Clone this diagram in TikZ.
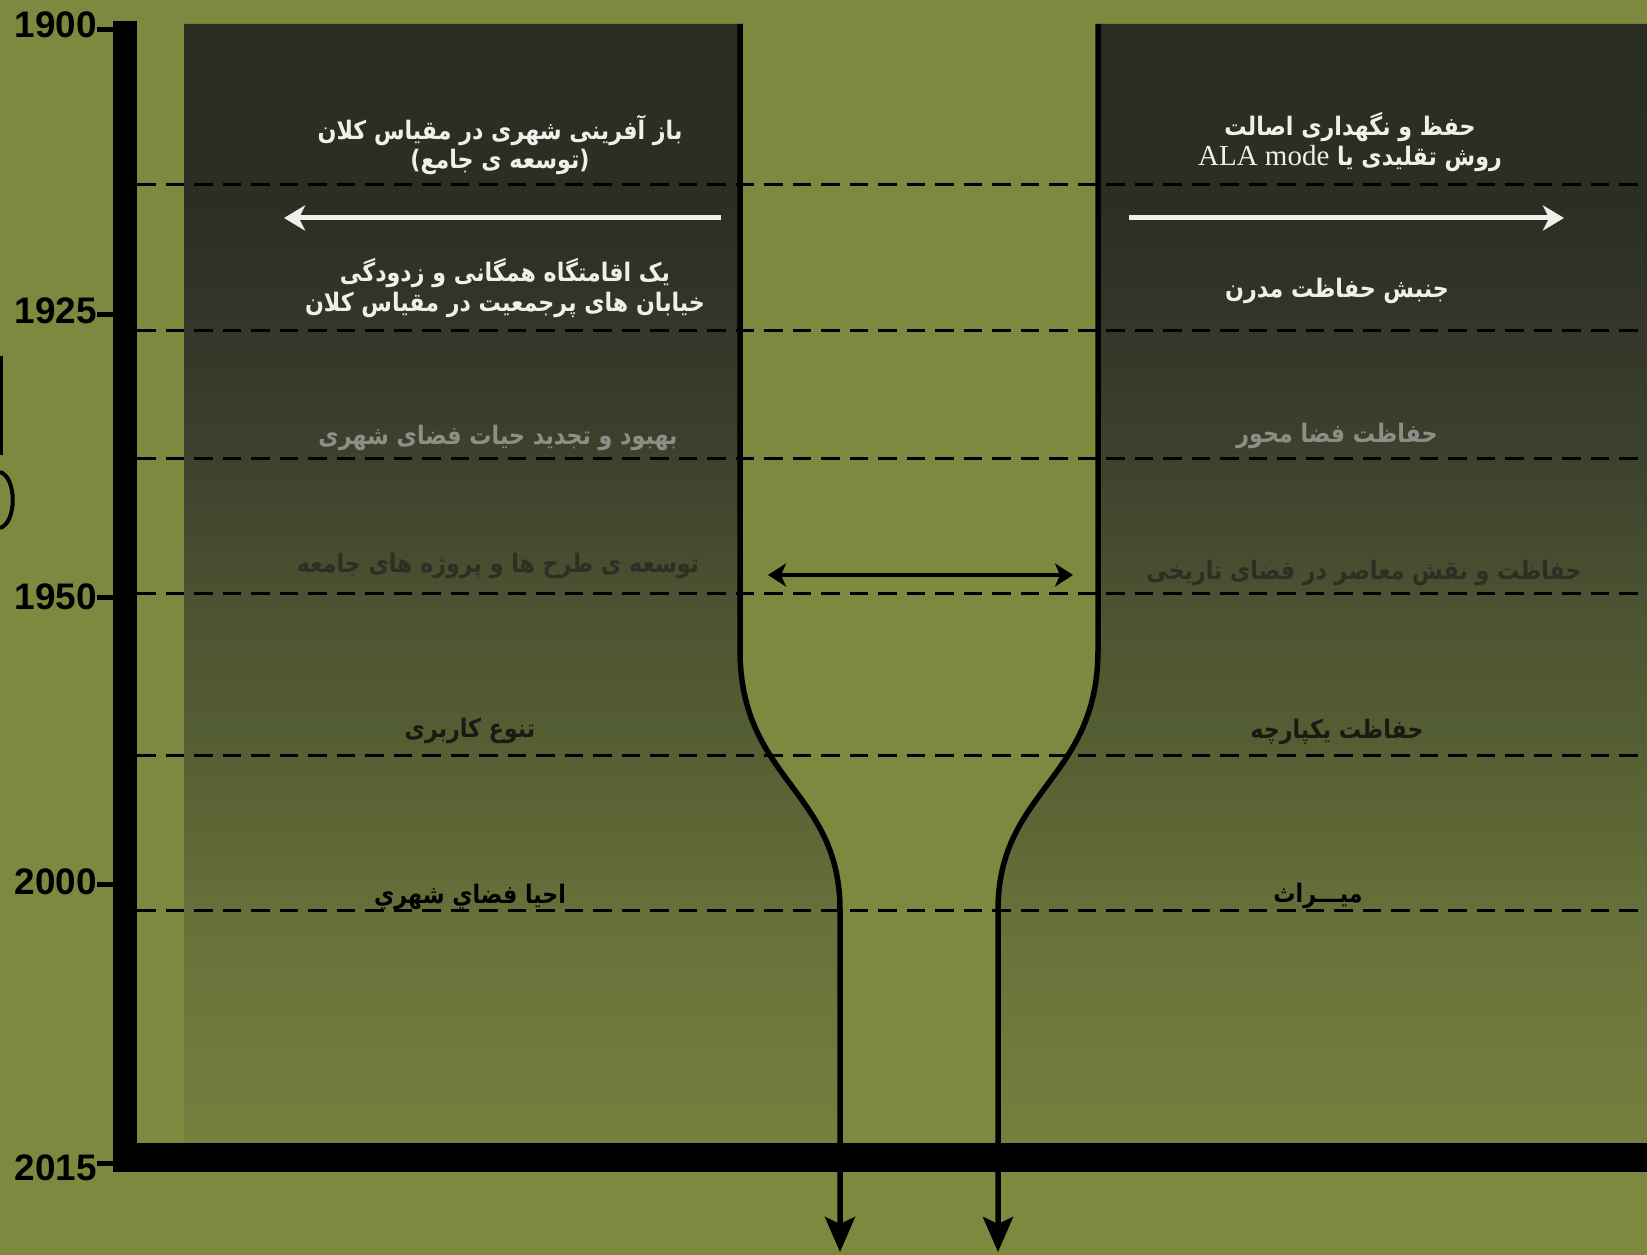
\documentclass[tikz,border=0pt]{standalone}
\usepackage{fontspec}
\usepackage{tikz}
\usetikzlibrary{arrows.meta}
\setmainfont{Liberation Serif}
\newfontfamily\yearfont{Liberation Sans}
\newfontfamily\persianfont[Script=Arabic, FakeStretch=0.87]{DejaVu Sans}
\TeXXeTstate=1

\definecolor{oliveBg}{RGB}{125,137,63}
\definecolor{fadeA}{RGB}{117,128,62}
\definecolor{fadeB}{RGB}{102,112,58}
\definecolor{fadeC}{RGB}{86,96,51}
\definecolor{fadeD}{RGB}{75,82,49}
\definecolor{fadeE}{RGB}{61,66,45}
\definecolor{fadeF}{RGB}{51,54,41}
\definecolor{fadeG}{RGB}{43,46,35}
\definecolor{fadeH}{RGB}{42,45,34}
\definecolor{lightText}{RGB}{240,240,234}
\definecolor{greyText}{RGB}{142,142,136}
\definecolor{dimText}{RGB}{44,47,35}
\definecolor{darkText}{RGB}{24,26,19}

\pgfdeclareverticalshading{panelfade}{100bp}{
  color(0bp)=(fadeA); color(25bp)=(fadeA); color(35.4bp)=(fadeB);
  color(42.1bp)=(fadeC); color(49.3bp)=(fadeD); color(55.5bp)=(fadeE);
  color(61.4bp)=(fadeF); color(67bp)=(fadeG); color(75bp)=(fadeH);
  color(100bp)=(fadeH)}

\begin{document}
\begin{tikzpicture}[x=0.2mm, y=-0.2mm]
    \tikzstyle{year} = [
      anchor=east,
      inner sep=0pt,
      font=\yearfont\bfseries\fontsize{21}{21}\selectfont,
    ]
    \tikzstyle{yeartick} = [
      line width=1mm,
      draw=black,
    ]
    \tikzstyle{period} = [
      draw=black,
      line width=0.6mm,
      dash pattern=on 3.7mm off 2mm,
    ]
    \tikzstyle{neck} = [
      draw=black,
      line width=1.1mm,
      -{Stealth[length=7mm, width=6mm, inset=1.4mm]},
    ]
    \tikzstyle{phrase} = [
      anchor=center,
      align=center,
      inner sep=0pt,
      font=\persianfont\bfseries\fontsize{14.5}{17}\selectfont,
    ]
    \tikzstyle{trend} = [
      draw=lightText,
      line width=1mm,
      -{Stealth[length=4.2mm, width=5mm, inset=1.2mm]},
    ]
    \tikzstyle{span} = [
      draw=black,
      line width=0.8mm,
      {Stealth[length=3.6mm, width=4.6mm, inset=1mm]}-{Stealth[length=3.6mm, width=4.6mm, inset=1mm]},
    ]

    \newcommand{\figwidth}[0]{1647}
    \newcommand{\panelbottom}[0]{1143}
    \newcommand{\lineleft}[0]{137}

    \useasboundingbox (0,0) rectangle (\figwidth,1255);
    \fill[oliveBg] (0,0) rectangle (\figwidth,1255);

    \coordinate (leftNeckTop)   at (740,24);
    \coordinate (leftNeckBend)  at (740,650);
    \coordinate (leftNeckFoot)  at (840,910);
    \coordinate (leftNeckEnd)   at (840,1252);
    \coordinate (rightNeckTop)  at (1098,24);
    \coordinate (rightNeckBend) at (1098,650);
    \coordinate (rightNeckFoot) at (998,910);
    \coordinate (rightNeckEnd)  at (998,1252);

    % panels
    {
      \shade[shading=panelfade] (184,24) -- (leftNeckTop) -- (leftNeckBend)
        .. controls +(0,130) and +(0,-120) .. (leftNeckFoot)
        -- (840,\panelbottom) -- (184,\panelbottom) -- cycle;
      \shade[shading=panelfade] (rightNeckTop) -- (\figwidth,24) -- (\figwidth,\panelbottom)
        -- (998,\panelbottom) -- (rightNeckFoot)
        .. controls +(0,-120) and +(0,130) .. (rightNeckBend) -- cycle;
    }

    % period lines
    {
      \draw[period] (\lineleft,185) -- (\figwidth,185);
      \draw[period] (\lineleft,331) -- (\figwidth,331);
      \draw[period] (\lineleft,459) -- (\figwidth,459);
      \draw[period] (\lineleft,594) -- (\figwidth,594);
      \draw[period] (\lineleft,756) -- (\figwidth,756);
      \draw[period] (\lineleft,910) -- (\figwidth,910);
    }

    % necks
    {
      \draw[neck] (leftNeckTop) -- (leftNeckBend)
        .. controls +(0,130) and +(0,-120) .. (leftNeckFoot) -- (leftNeckEnd);
      \draw[neck] (rightNeckTop) -- (rightNeckBend)
        .. controls +(0,130) and +(0,-120) .. (rightNeckFoot) -- (rightNeckEnd);
    }

    % time axis
    {
      \fill[black] (113,21) rectangle (137,1172);
      \fill[black] (113,\panelbottom) rectangle (\figwidth,1172);
      \node[year] (yearI)   at (97,25)   {1900};
      \node[year] (yearII)  at (97,311)  {1925};
      \node[year] (yearIII) at (97,597)  {1950};
      \node[year] (yearIV)  at (97,882)  {2000};
      \node[year] (yearV)   at (97,1168) {2015};
      \draw[yeartick] (yearI.east)   ++(0,5) -- ++(16,0);
      \draw[yeartick] (yearII.east)  ++(0,4) -- ++(16,0);
      \draw[yeartick] (yearIII.east) ++(0,1) -- ++(16,0);
      \draw[yeartick] (yearIV.east)  ++(0,2) -- ++(16,0);
      \draw[yeartick] (yearV.east)   ++(0,-5) -- ++(16,0);
    }

    % cut edge
    {
      \draw[line width=0.7mm] (1,356) -- (1,455);
      \draw[line width=0.8mm] (0,472) .. controls (17,477) and (17,523) .. (0,528);
    }

    % left column
    {
      \node[phrase, text=lightText] (leftTitle) at (500,145)
        {\beginR باز آفرینی شهری در مقیاس کلان\endR\\\beginR (توسعه ی جامع)\endR};
      \coordinate (leftTrendTail) at (721,218);
      \coordinate (leftTrendTip)  at (284,218);
      \draw[trend] (leftTrendTail) -- (leftTrendTip);
      \node[phrase, text=lightText] (leftItemI) at (505,288)
        {\beginR یک اقامتگاه همگانی و زدودگی\endR\\\beginR خیابان های پرجمعیت در مقیاس کلان\endR};
      \node[phrase, text=greyText] (leftItemII)  at (498,438) {\beginR بهبود و تجدید حیات فضای شهری\endR};
      \node[phrase, text=dimText]  (leftItemIII) at (498,566) {\beginR توسعه ی طرح ها و پروژه های جامعه\endR};
      \node[phrase, text=darkText] (leftItemIV)  at (470,731) {\beginR تنوع کاربری\endR};
      \node[phrase, text=black]    (leftItemV)   at (470,897) {\beginR احیا فضاي شهري\endR};
    }

    % right column
    {
      \node[phrase, text=lightText] (rightTitle) at (1350,142)
        {\beginR حفظ و نگهداری اصالت\endR\\\beginR روش تقلیدی یا {\rmfamily\mdseries\fontsize{16.5}{17}\selectfont\beginL ALA mode\endL}\endR};
      \coordinate (rightTrendTail) at (1129,218);
      \coordinate (rightTrendTip)  at (1564,218);
      \draw[trend] (rightTrendTail) -- (rightTrendTip);
      \node[phrase, text=lightText] (rightItemI)   at (1337,291) {\beginR جنبش حفاظت مدرن\endR};
      \node[phrase, text=greyText]  (rightItemII)  at (1337,436) {\beginR حفاظت فضا محور\endR};
      \node[phrase, text=dimText]   (rightItemIII) at (1364,573) {\beginR حفاظت و نقش معاصر در فضای تاریخی\endR};
      \node[phrase, text=darkText]  (rightItemIV)  at (1337,732) {\beginR حفاظت یکپارچه\endR};
      \node[phrase, text=black]     (rightItemV)   at (1318,896) {\beginR میـــراث\endR};
    }

    % span between approaches
    {
      \coordinate (spanLeft)  at (768,575);
      \coordinate (spanRight) at (1073,575);
      \draw[span] (spanLeft) -- (spanRight);
    }
  \end{tikzpicture}
\end{document}
